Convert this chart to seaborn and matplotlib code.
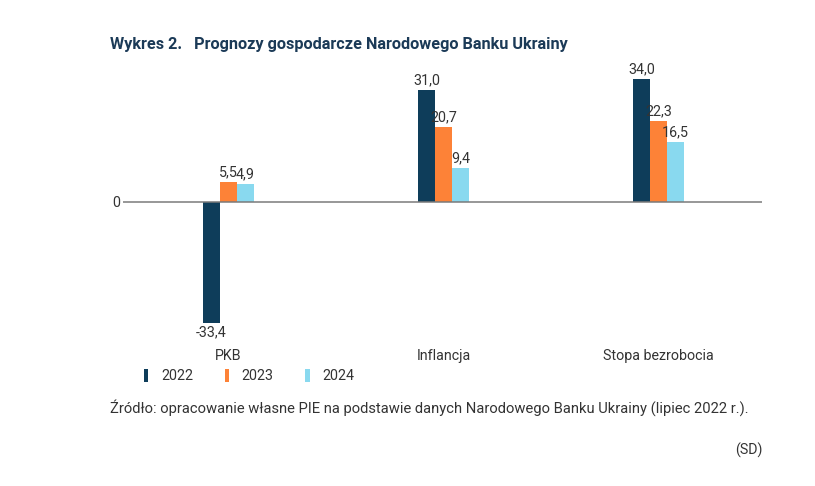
import matplotlib
matplotlib.use("Agg")
import matplotlib.pyplot as plt
import seaborn as sns
import pandas as pd
from matplotlib.patches import Patch

categories = ["PKB", "Inflancja", "Stopa bezrobocia"]
years = ["2022", "2023", "2024"]
v2022 = [-33.4, 31.0, 34.0]
v2023 = [5.5, 20.7, 22.3]
v2024 = [4.9, 9.4, 16.5]
colors = ["#0e3d5a", "#fd8237", "#89d9ef"]

rows = []
for y, vals in zip(years, [v2022, v2023, v2024]):
    for c, v in zip(categories, vals):
        rows.append({"cat": c, "year": y, "val": v})
df = pd.DataFrame(rows)

sns.set_theme(style="white")
plt.rcParams["font.family"] = ["Roboto", "DejaVu Sans"]

FS = 10.3
fig = plt.figure(figsize=(8.15, 4.86), dpi=100)
ax = fig.add_axes([123/815, 1-330/486, (762-123)/815, (330-70)/486])

sns.barplot(data=df, x="cat", y="val", hue="year", palette=colors,
            width=0.237, ax=ax, legend=False, saturation=1, linewidth=0)

ax.set_xlim(-0.49, 2.48)
ax.set_ylim(-35.4, 36.5)
for s in ax.spines.values():
    s.set_visible(False)
ax.axhline(0, color="#7a7a7a", lw=1.1, zorder=5)
ax.set_yticks([0])
ax.set_yticklabels(["0"], fontsize=FS, color="#333333")
ax.tick_params(axis="y", length=0, pad=2)
ax.tick_params(axis="x", length=0, pad=14, labelsize=FS, labelcolor="#333333")
ax.set_xlabel("")
ax.set_ylabel("")

for cont in ax.containers:
    labels = [f"{b.get_height():.1f}".replace(".", ",") for b in cont]
    ax.bar_label(cont, labels=labels, padding=2, fontsize=FS, color="#333333")

fig.text(110/815, 1-45/486, "Wykres 2.   Prognozy gospodarcze Narodowego Banku Ukrainy",
         fontsize=11.7, fontweight="bold", color="#1b3a57", va="center", ha="left")

handles = [Patch(facecolor=c, edgecolor="none") for c in colors]
leg = fig.legend(handles, years, loc="center left", bbox_to_anchor=(144/815, 1-376/486),
                 ncol=3, frameon=False, fontsize=FS, handlelength=0.3, handleheight=1.1,
                 handletextpad=0.9, columnspacing=2.2, borderaxespad=0, borderpad=0)
for t in leg.get_texts():
    t.set_color("#333333")

fig.text(110/815, 1-408/486,
         "Źródło: opracowanie własne PIE na podstawie danych Narodowego Banku Ukrainy (lipiec 2022 r.).",
         fontsize=10.6, color="#333333", va="center", ha="left")
fig.text(762/815, 1-450/486, "(SD)", fontsize=FS, color="#333333", va="center", ha="right")

fig.savefig("out.png", dpi=100, facecolor="white")
